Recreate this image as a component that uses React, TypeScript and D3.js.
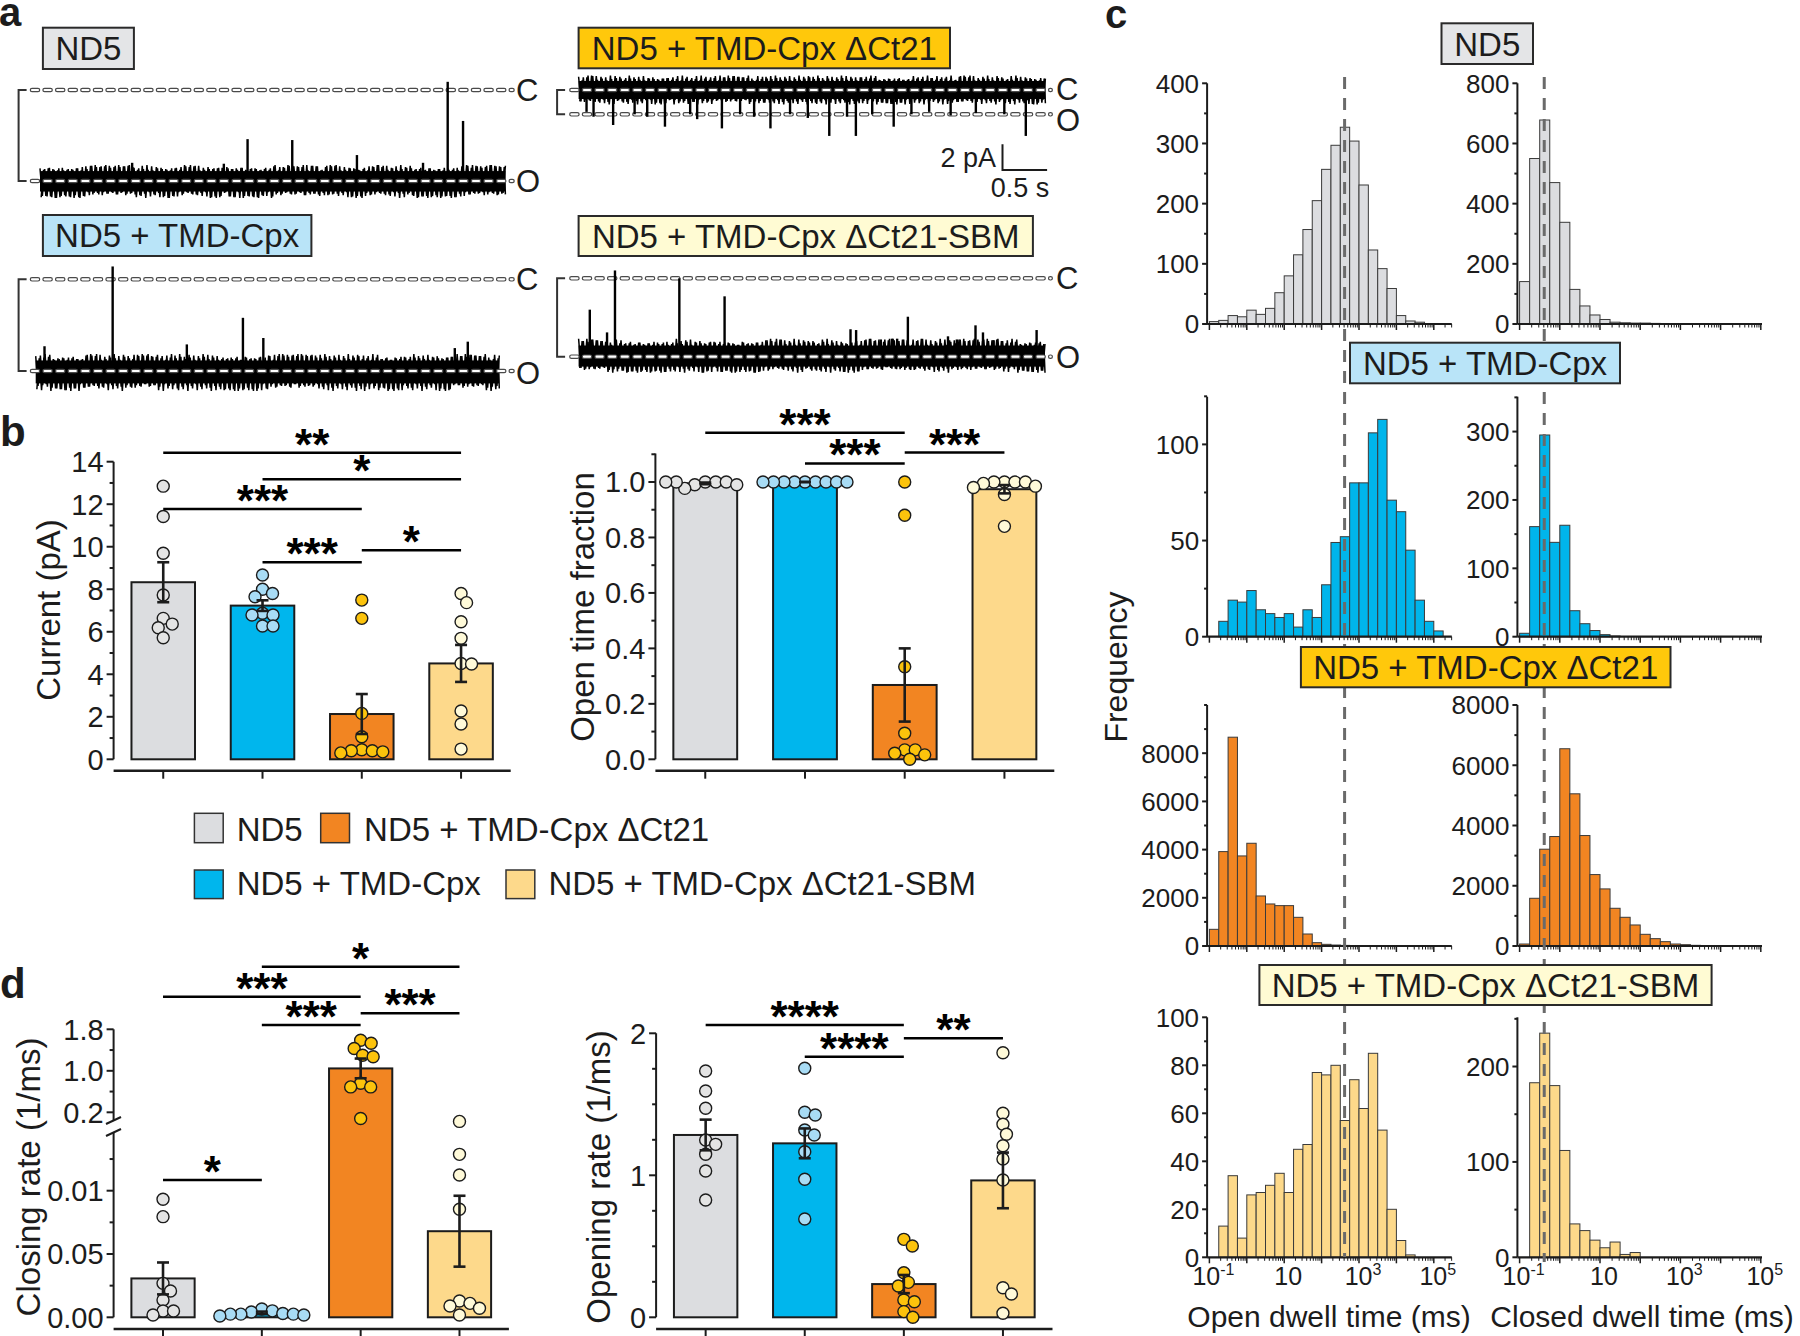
import React from 'react';
import * as d3 from 'd3';

const FONT = "'Liberation Sans', Arial, Helvetica, sans-serif";
const INK = '#1c1c1c';

// ---------------- groups & colours ----------------
const groups = ['ND5', 'ND5 + TMD-Cpx', 'ND5 + TMD-Cpx ΔCt21', 'ND5 + TMD-Cpx ΔCt21-SBM'];
const barColors = ['#dcdde0', '#00b6ed', '#f28522', '#fdd98b'];
const dotColors = ['#e4e4e4', '#a8dcf5', '#fcc30c', '#fffad9'];
const boxColors = ['#e4e5e7', '#b9e4f8', '#ffc80b', '#fffbd3'];
const histColors = ['#dcdde0', '#00b5eb', '#f28522', '#fdd98a'];

// ---------------- panel b : current ----------------
const currentMeans = [8.33, 7.23, 2.13, 4.51];
const currentSem = [0.94, 0.25, 0.94, 0.87];
const currentND5 = [12.85, 11.42, 9.69, 7.73, 6.63, 6.36, 6.19, 5.72];
const currentTMD = [8.67, 8.0, 7.8, 7.65, 6.87, 6.79, 6.79, 6.27, 6.27];
const currentCt21 = [7.49, 6.63, 2.16, 1.06, 0.45, 0.4, 0.4, 0.35, 0.3];
const currentSBM = [7.8, 7.37, 6.47, 5.69, 4.51, 4.48, 2.27, 1.66, 0.48];
const currentTicks = [0, 2, 4, 6, 8, 10, 12, 14];
const currentMinor = [1, 3, 5, 7, 9, 11, 13];
const currentSig: [number, number, number, string][] = [
  [0, 3, 14.42, '**'], [1, 3, 13.17, '*'], [0, 2, 11.77, '***'], [1, 2, 9.27, '***'], [2, 3, 9.83, '*'],
];

// ---------------- panel b : open time fraction ----------------
const fracMeans = [0.995, 1.0, 0.268, 0.974];
const fracSem = [0.003, 0.0, 0.132, 0.015];
const fracND5 = [1.0, 1.0, 0.99, 1.0, 0.977, 1.0, 0.99, 1.0];
const fracTMD = [1, 1, 1, 1, 1, 1, 1, 1, 1];
const fracCt21 = [1.0, 0.88, 0.334, 0.094, 0.034, 0.034, 0.022, 0.016, 0.0];
const fracSBM = [1.0, 1.0, 1.0, 1.0, 0.995, 0.985, 0.98, 0.955, 0.84];
const fracTicks = [0, 0.2, 0.4, 0.6, 0.8, 1.0];
const fracLabels = ['0.0', '0.2', '0.4', '0.6', '0.8', '1.0'];
const fracMinor = [0.1, 0.3, 0.5, 0.7, 0.9, 1.1];
const fracSig: [number, number, number, string][] = [
  [0, 2, 1.178, '***'], [1, 2, 1.067, '***'], [2, 3, 1.106, '***'],
];

// ---------------- panel d : closing rate (broken axis) ----------------
const closeMeans = [0.00307, 0.00035, 1.046, 0.0068];
const closeSem = [0.00126, 0.0001, 0.19, 0.0028];
const closeND5 = [0.00932, 0.00795, 0.00268, 0.00208, 0.00137, 0.0005, 0.0005, 0.00018];
const closeTMD = [0.00066, 0.00051, 0.00042, 0.0003, 0.00025, 0.00025, 0.00025, 0.00018, 0.0001];
const closeCt21 = [1.59, 1.53, 1.43, 1.3, 1.27, 0.76, 0.69, 0.69, 0.08];
const closeSBM = [0.025, 0.01287, 0.01124, 0.00853, 0.00129, 0.0011, 0.00089, 0.00071, 0.00018];
const closeLowTicks = [0, 0.005, 0.01];
const closeLowLabels = ['0.00', '0.05', '0.01'];
const closeLowMinor = [0.0025, 0.0075, 0.0125];
const closeHighTicks = [0.2, 1.0, 1.8];
const closeHighLabels = ['0.2', '1.0', '1.8'];
const closeHighMinor = [0.6, 1.4];
const closeSig: [number, number, number, string][] = [
  [1, 3, 3.007, '*'], [0, 2, 2.428, '***'], [1, 2, 1.883, '***'], [2, 3, 2.108, '***'], [0, 1, 0.01085, '*'],
];

// ---------------- panel d : opening rate ----------------
const openMeans = [1.284, 1.225, 0.234, 0.964];
const openSem = [0.108, 0.105, 0.064, 0.196];
const openND5 = [1.734, 1.594, 1.472, 1.249, 1.218, 1.148, 1.03, 0.826];
const openTMD = [1.754, 1.444, 1.425, 1.319, 1.284, 1.166, 0.972, 0.692];
const openCt21 = [0.549, 0.502, 0.314, 0.246, 0.22, 0.122, 0.11, 0.04, 0.0];
const openSBM = [1.863, 1.437, 1.359, 1.289, 1.208, 1.115, 0.967, 0.208, 0.164, 0.028];
const openTicks = [0, 1, 2];
const openMinor = [0.25, 0.5, 0.75, 1.25, 1.5, 1.75];
const openSig: [number, number, number, string][] = [
  [0, 2, 2.058, '****'], [1, 2, 1.835, '****'], [2, 3, 1.965, '**'],
];

// ---------------- panel c : dwell time histograms (bins of 1/4 decade from 0.1 ms) ----------------
const nd5Open = [4, 6, 14, 12, 23, 16, 26, 52, 80, 115, 157, 205, 257, 297, 327, 304, 231, 123, 92, 59, 14, 5, 3];
const nd5Closed = [141, 550, 678, 470, 338, 115, 60, 30, 15, 6, 4, 3, 3, 2, 1, 1, 1, 1, 1];
const tmdOpen = [0, 8, 19, 18, 24, 14, 12, 10, 12, 5, 14, 10, 27, 49, 52, 80, 80, 106, 113, 71, 65, 45, 19, 8, 3];
const tmdClosed = [5, 161, 295, 138, 163, 38, 19, 9, 3, 1];
const ct21Open = [692, 3917, 8664, 3737, 4263, 2076, 1744, 1675, 1675, 1190, 498, 138, 69, 40, 25, 20, 15, 12, 10, 8, 6, 5, 4, 3];
const ct21Closed = [66, 1584, 3213, 3634, 6548, 5052, 3667, 2371, 1895, 1252, 953, 698, 388, 244, 144, 66, 44, 22, 15, 10, 8, 5, 3, 2];
const sbmOpen = [0, 13, 34, 8, 26, 27, 30, 35, 27, 45, 47, 77, 76, 80, 57, 74, 62, 85, 53, 20, 7, 1];
const sbmClosed = [0, 183, 235, 180, 112, 35, 28, 18, 10, 16, 3, 5];
const openMedianMs = 412;
const closedMedianMs = 0.41;
const dwellExpLabels = [-1, 1, 3, 5];

const histOpenTicks = [[0, 100, 200, 300, 400], [0, 50, 100], [0, 2000, 4000, 6000, 8000], [0, 20, 40, 60, 80, 100]];
const histOpenMinor = [[50, 150, 250, 350], [25, 75, 125], [1000, 3000, 5000, 7000, 9000, 10000], [10, 30, 50, 70, 90]];
const histOpenTop = [400, 124.8, 10000, 100];
const histClosedTicks = [[0, 200, 400, 600, 800], [0, 100, 200, 300], [0, 2000, 4000, 6000, 8000], [0, 100, 200]];
const histClosedMinor = [[100, 300, 500, 700], [50, 150, 250, 350], [1000, 3000, 5000, 7000], [50, 150, 250]];
const histClosedTop = [800, 351, 8000, 251.6];

// ---------------- panel a : traces ----------------
// noise amplitude levels (0-9), alternating up / down excursions, read roughly from the records
const noiseND5 = '4637582946173825496735826471935284617392584639271548362947516372948516273849562147382956174839265147926351847362951483762584739615284736195274619385264719385246385729461837562948176184937255819374628';
const noiseTMD = '6372948516273849562125847396152847361952358264719352846173923857294618375629481747382956174839265147618493725581937462824637582946173825496774619385264719385246584639271548362947519263518473629514837';
const noiseCt21 = '7461938526471938524658463927154836294751618493725581937462829263518473629514837646375829461738254967385729461837562948176372948516273849562135826471935284617392258473961528473619524738295617483926514';
const noiseSBM = '9263518473629514837638572946183756294817473829561748392651475846392715483629475174619385264719385246463758294617382549676184937255819374628225847396152847361952358264719352846173926372948516273849562';
const spikesND5Pos = [0.198, 0.395, 0.446, 0.542, 0.681, 0.823, 0.876, 0.909];
const spikesND5Amp = [0.2, 0.19, 0.46, 0.45, 0.285, 0.2, 1.09, 0.66];
const spikesTMDPos = [0.019, 0.166, 0.326, 0.447, 0.491, 0.904, 0.932];
const spikesTMDAmp = [0.27, 1.14, 0.29, 0.58, 0.36, 0.25, 0.32];
const spikesCt21Pos = [0.017, 0.032, 0.074, 0.12, 0.147, 0.185, 0.239, 0.254, 0.307, 0.346, 0.376, 0.411, 0.453, 0.491, 0.537, 0.575, 0.594, 0.629, 0.675, 0.713, 0.751, 0.797, 0.851, 0.912, 0.958];
const spikesCt21Amp = [0.9, 1.1, 1.44, 1.0, 1.1, 1.51, 1.0, 1.2, 1.58, 1.0, 1.1, 1.58, 1.0, 1.15, 1.89, 1.1, 1.89, 1.0, 1.51, 1.0, 0.9, 1.05, 0.95, 1.0, 1.89];
const spikesSBMPos = [0.024, 0.061, 0.078, 0.216, 0.313, 0.583, 0.595, 0.648, 0.672, 0.683, 0.706, 0.792, 0.811, 0.851, 0.867, 0.89, 0.982];
const spikesSBMAmp = [0.6, 0.31, 1.1, 1.0, 0.77, 0.35, 0.34, 0.22, 0.23, 0.23, 0.51, 0.26, 0.22, 0.4, 0.31, 0.21, 0.34];

// ================= helpers =================
function swarm(vals: number[], y: (v: number) => number, minD = 10.5) {
  const placed: { x: number; y: number }[] = [];
  return vals.map((v) => {
    const py = y(v);
    let best = 0;
    for (let k = 0; k < 400; k++) {
      const off = k === 0 ? 0 : (k % 2 ? 1 : -1) * Math.ceil(k / 2) * 0.5;
      if (placed.every((p) => (p.x - off) ** 2 + (p.y - py) ** 2 >= minD * minD)) { best = off; break; }
    }
    placed.push({ x: best, y: py });
    return { x: best, y: py };
  });
}

function YAxis({ scale, x, ticks, labels, minor, from, to, fontSize = 29, major = 7, minorLen = 4, gap = 10 }: any) {
  return (
    <g>
      <line x1={x} x2={x} y1={scale(from)} y2={scale(to)} stroke={INK} strokeWidth={2} />
      {ticks.map((t: number, i: number) => (
        <g key={'t' + i}>
          <line x1={x - major} x2={x} y1={scale(t)} y2={scale(t)} stroke={INK} strokeWidth={2} />
          <text x={x - gap} y={scale(t)} dy="0.36em" textAnchor="end" fontSize={fontSize} fill={INK}>{labels[i]}</text>
        </g>
      ))}
      {minor.map((t: number, i: number) => (
        <line key={'m' + i} x1={x - minorLen} x2={x} y1={scale(t)} y2={scale(t)} stroke={INK} strokeWidth={2} />
      ))}
    </g>
  );
}

function BarPanel({ xr, yScale, axisLineY, means, sems, pts, sig }: any) {
  const xb = d3.scaleBand<string>().domain(groups).range(xr).paddingInner(0.36).paddingOuter(0.18);
  const bw = xb.bandwidth();
  const cx = (i: number) => (xb(groups[i]) as number) + bw / 2;
  const y0 = yScale(0);
  return (
    <g>
      {groups.map((g, i) => (
        <rect key={g} x={xb(g)} y={yScale(means[i])} width={bw} height={y0 - yScale(means[i])}
          fill={barColors[i]} stroke={INK} strokeWidth={2} />
      ))}
      {pts.map((vals: number[], i: number) =>
        swarm(vals, yScale).map((p, j) => (
          <circle key={i + '-' + j} cx={cx(i) + p.x} cy={p.y} r={6} fill={dotColors[i]} stroke={INK} strokeWidth={1.4} />
        ))
      )}
      {means.map((m: number, i: number) => {
        const yt = yScale(m + sems[i]);
        const yb = yScale(m - sems[i]);
        return (
          <g key={'e' + i} stroke={INK} strokeWidth={2.6}>
            <line x1={cx(i)} x2={cx(i)} y1={yt} y2={yb} />
            <line x1={cx(i) - 6} x2={cx(i) + 6} y1={yt} y2={yt} />
            <line x1={cx(i) - 6} x2={cx(i) + 6} y1={yb} y2={yb} />
          </g>
        );
      })}
      <line x1={xr[0]} x2={xr[1]} y1={axisLineY} y2={axisLineY} stroke={INK} strokeWidth={2.5} />
      {groups.map((g, i) => (
        <line key={'xt' + i} x1={cx(i)} x2={cx(i)} y1={axisLineY} y2={axisLineY + 8} stroke={INK} strokeWidth={2} />
      ))}
      {sig.map(([a, b, level, label]: [number, number, number, string], i: number) => {
        const y = yScale(level);
        return (
          <g key={'s' + i}>
            <line x1={cx(a)} x2={cx(b)} y1={y} y2={y} stroke="#000" strokeWidth={2.5} />
            <text x={(cx(a) + cx(b)) / 2} y={y + 7} textAnchor="middle" fontSize={44} fontWeight="bold" fill="#000">{label}</text>
          </g>
        );
      })}
    </g>
  );
}

function Box({ x, y, w, h, fill, text }: any) {
  return (
    <g>
      <rect x={x} y={y} width={w} height={h} fill={fill} stroke="#2a2a2a" strokeWidth={2} />
      <text x={x + w / 2} y={y + h / 2} dy="0.36em" textAnchor="middle" fontSize={33} fill={INK}>{text}</text>
    </g>
  );
}

function RefLine({ x0, x1, y }: any) {
  return (
    <g>
      <line x1={x0} x2={x1} y1={y} y2={y} stroke="#4a4a4a" strokeWidth={4.6} strokeDasharray="6 6.6" strokeLinecap="round" />
      <line x1={x0} x2={x1} y1={y} y2={y} stroke="#fff" strokeWidth={2.2} strokeDasharray="6 6.6" strokeLinecap="round" />
    </g>
  );
}

function Trace({ x0, x1, yC, yO, onC, noise, up, down, spikePos, spikeAmp, bx, rx0, rx1, lx, cLabelY, oLabelY }: any) {
  const yBase = onC ? yC : yO;
  const yRef = onC ? yO : yC;
  const chars = Array.from(noise as string);
  const n = chars.length;
  const xs = d3.scaleLinear().domain([0, n - 1]).range([x0, x1]);
  const half = (x1 - x0) / (n - 1) / 2;
  const core = 0.62;
  const mk = (seq: string[], shift: number, flip: boolean) =>
    d3.line()(seq.map((ch, i) => {
      const m = core + 0.042 * +ch;
      const isUp = (i % 2 === 0) !== flip;
      return [Math.min(x1, xs(i) + shift), isUp ? yBase - up * m : yBase + down * m] as [number, number];
    })) as string;
  const path1 = mk(chars, 0, false);
  const path2 = mk(chars.slice().reverse(), half, true);
  const spx = d3.scaleLinear().domain([0, 1]).range([x0, x1]);
  return (
    <g>
      <path d={`M${bx + 8},${yC}H${bx}V${yO}H${bx + 8}`} fill="none" stroke="#333" strokeWidth={2} />
      {onC ? <RefLine x0={rx0} x1={rx1} y={yO} /> : <RefLine x0={rx0} x1={rx1} y={yC} />}
      <rect x={x0} y={yBase - up * core} width={x1 - x0} height={(up + down) * core} fill="#000" />
      <path d={path1} fill="none" stroke="#000" strokeWidth={1.5} />
      <path d={path2} fill="none" stroke="#000" strokeWidth={1.5} />
      {spikePos.map((p: number, i: number) => (
        <line key={i} x1={spx(p)} x2={spx(p)} y1={yBase} y2={yBase + spikeAmp[i] * (yRef - yBase)} stroke="#000" strokeWidth={2.4} />
      ))}
      {onC ? <RefLine x0={rx0} x1={rx1} y={yC} /> : <RefLine x0={rx0} x1={rx1} y={yO} />}
      <text x={lx} y={cLabelY} dy="0.36em" fontSize={31} fill={INK}>C</text>
      <text x={lx} y={oLabelY} dy="0.36em" fontSize={31} fill={INK}>O</text>
    </g>
  );
}

const openX = d3.scaleLog().domain([0.1, 1e5]).range([1209.4, 1433.8]);
const closedX = d3.scaleLog().domain([0.1, 1e5]).range([1519.6, 1760.8]);
const binEdge = (i: number) => Math.pow(10, -1 + 0.25 * i);

function Hist({ xs, axisX0, axisX1, zero, top, maxV, values, color, ticks, minor, showLabels }: any) {
  const ys = d3.scaleLinear().domain([0, maxV]).range([zero, top]);
  const [d0, d1] = [Math.log10(xs.invert(axisX0)), Math.log10(xs.invert(axisX1))];
  const majors: number[] = [];
  const minors: number[] = [];
  for (let k = -1; k <= 5; k++) {
    majors.push(Math.pow(10, k));
    for (let m = 2; m <= 9; m++) {
      const v = m * Math.pow(10, k);
      if (Math.log10(v) <= d1 && Math.log10(v) >= d0) minors.push(v);
    }
  }
  return (
    <g>
      {values.map((v: number, i: number) => v > 0 ? (
        <rect key={i} x={xs(binEdge(i))} y={ys(v)} width={xs(binEdge(i + 1)) - xs(binEdge(i))} height={zero - ys(v)}
          fill={color} stroke="#3a3a3a" strokeWidth={1} />
      ) : null)}
      <line x1={axisX0} x2={axisX1} y1={zero} y2={zero} stroke={INK} strokeWidth={2.2} />
      {majors.map((v, i) => <line key={'M' + i} x1={xs(v)} x2={xs(v)} y1={zero} y2={zero + 6} stroke={INK} strokeWidth={1.5} />)}
      {minors.map((v, i) => <line key={'m' + i} x1={xs(v)} x2={xs(v)} y1={zero} y2={zero + 3.5} stroke={INK} strokeWidth={1} />)}
      <YAxis scale={ys} x={axisX0} ticks={ticks} labels={ticks.map((t: number) => String(t))} minor={minor}
        from={0} to={maxV} fontSize={26} major={5} minorLen={3} gap={8} />
      {showLabels && dwellExpLabels.map((e) => (
        <text key={'xl' + e} x={xs(Math.pow(10, e)) + 4} y={zero + 28} textAnchor="middle" fontSize={25} fill={INK}>
          10{e !== 1 ? <tspan dy={-10} fontSize={16}>{e}</tspan> : null}
        </text>
      ))}
    </g>
  );
}

export default function App() {
  const yCurrent = d3.scaleLinear().domain([0, 14]).range([759.3, 461.7]);
  const yFrac = d3.scaleLinear().domain([0, 1]).range([759.3, 482]);
  const yClose = d3.scaleLinear().domain([0, 0.01466, 0.019, 1.8]).range([1317.3, 1131.7, 1121.7, 1029.3]);
  const yOpen = d3.scaleLinear().domain([0, 2]).range([1317.3, 1033.3]);

  const rows = [
    { zero: 324, top: 83.3, open: nd5Open, closed: nd5Closed },
    { zero: 636.7, top: 396.7, open: tmdOpen, closed: tmdClosed },
    { zero: 946, top: 705, open: ct21Open, closed: ct21Closed },
    { zero: 1257.3, top: 1017.3, open: sbmOpen, closed: sbmClosed },
  ];

  return (
    <svg width={1800} height={1336} viewBox="0 0 1800 1336"
      style={{ position: 'absolute', left: 0, top: 0, background: '#fff', fontFamily: FONT }}>
      <rect x={0} y={0} width={1800} height={1336} fill="#fff" />

      {/* panel labels */}
      <text x={-1} y={26} fontSize={40} fontWeight="bold" fill={INK}>a</text>
      <text x={0} y={446} fontSize={42} fontWeight="bold" fill={INK}>b</text>
      <text x={1105} y={28} fontSize={40} fontWeight="bold" fill={INK}>c</text>
      <text x={0} y={998} fontSize={42} fontWeight="bold" fill={INK}>d</text>

      {/* ============ panel a ============ */}
      <Box x={42.9} y={27.7} w={91} h={41.3} fill={boxColors[0]} text={groups[0]} />
      <Box x={42.9} y={215} w={268.5} h={41} fill={boxColors[1]} text={groups[1]} />
      <Box x={578.6} y={27.7} w={371.4} h={40.6} fill={boxColors[2]} text={groups[2]} />
      <Box x={578.6} y={216} w={454.3} h={40} fill={boxColors[3]} text={groups[3]} />

      <Trace x0={40} x1={505.4} yC={90} yO={181} onC={false} noise={noiseND5} up={16} down={17}
        spikePos={spikesND5Pos} spikeAmp={spikesND5Amp} bx={18.6} rx0={32} rx1={512.5} lx={516} cLabelY={90} oLabelY={181} />
      <Trace x0={35.7} x1={499.3} yC={279.3} yO={371} onC={false} noise={noiseTMD} up={17} down={20}
        spikePos={spikesTMDPos} spikeAmp={spikesTMDAmp} bx={18.6} rx0={32} rx1={512.5} lx={516} cLabelY={279.3} oLabelY={373} />
      <Trace x0={578.6} x1={1045.4} yC={90} yO={114.3} onC={true} noise={noiseCt21} up={14.5} down={14.5}
        spikePos={spikesCt21Pos} spikeAmp={spikesCt21Amp} bx={557.1} rx0={571.4} rx1={1050.7} lx={1056} cLabelY={89} oLabelY={120} />
      <Trace x0={578.6} x1={1045} yC={278.3} yO={356.7} onC={false} noise={noiseSBM} up={18} down={16}
        spikePos={spikesSBMPos} spikeAmp={spikesSBMAmp} bx={557.1} rx0={571.4} rx1={1050.7} lx={1056} cLabelY={278.3} oLabelY={356.7} />

      {/* scale bar */}
      <path d="M1002.5,144.3V170H1047.1" fill="none" stroke={INK} strokeWidth={2} />
      <text x={996} y={166.7} textAnchor="end" fontSize={27} fill={INK}>2 pA</text>
      <text x={1020} y={196.7} textAnchor="middle" fontSize={27} fill={INK}>0.5 s</text>

      {/* ============ panel b ============ */}
      <YAxis scale={yCurrent} x={113.6} ticks={currentTicks} labels={currentTicks.map(String)} minor={currentMinor} from={0} to={14} />
      <BarPanel xr={[113.6, 510.7]} yScale={yCurrent} axisLineY={770.7} means={currentMeans} sems={currentSem}
        pts={[currentND5, currentTMD, currentCt21, currentSBM]} sig={currentSig} />
      <text transform="translate(60,610) rotate(-90)" textAnchor="middle" fontSize={33} fill={INK}>Current (pA)</text>

      <YAxis scale={yFrac} x={655.4} ticks={fracTicks} labels={fracLabels} minor={fracMinor} from={0} to={1.103} />
      <BarPanel xr={[655.4, 1054.3]} yScale={yFrac} axisLineY={770.7} means={fracMeans} sems={fracSem}
        pts={[fracND5, fracTMD, fracCt21, fracSBM]} sig={fracSig} />
      <text transform="translate(594,607) rotate(-90)" textAnchor="middle" fontSize={33} fill={INK}>Open time fraction</text>

      {/* legend */}
      <rect x={194.4} y={813.3} width={28.8} height={29.4} fill={barColors[0]} stroke="#333" strokeWidth={1.5} />
      <text x={236.7} y={841} fontSize={33} fill={INK}>{groups[0]}</text>
      <rect x={320.7} y={813.3} width={28.8} height={29.4} fill={barColors[2]} stroke="#333" strokeWidth={1.5} />
      <text x={364.1} y={841} fontSize={33} fill={INK}>{groups[2]}</text>
      <rect x={194.4} y={870} width={28.8} height={28.6} fill={barColors[1]} stroke="#333" strokeWidth={1.5} />
      <text x={236.7} y={895} fontSize={33} fill={INK}>{groups[1]}</text>
      <rect x={506} y={870} width={28.8} height={28.6} fill={barColors[3]} stroke="#333" strokeWidth={1.5} />
      <text x={548.4} y={895} fontSize={33} fill={INK}>{groups[3]}</text>

      {/* ============ panel d ============ */}
      <g>
        <line x1={113.6} x2={113.6} y1={yClose(1.8)} y2={1120} stroke={INK} strokeWidth={2} />
        <line x1={113.6} x2={113.6} y1={1133} y2={yClose(0)} stroke={INK} strokeWidth={2} />
        <line x1={106} x2={121} y1={1124} y2={1117} stroke={INK} strokeWidth={2} />
        <line x1={106} x2={121} y1={1136} y2={1129} stroke={INK} strokeWidth={2} />
        {closeLowTicks.map((t, i) => (
          <g key={'cl' + i}>
            <line x1={106.6} x2={113.6} y1={yClose(t)} y2={yClose(t)} stroke={INK} strokeWidth={2} />
            <text x={103.6} y={yClose(t)} dy="0.36em" textAnchor="end" fontSize={29} fill={INK}>{closeLowLabels[i]}</text>
          </g>
        ))}
        {closeHighTicks.map((t, i) => (
          <g key={'ch' + i}>
            <line x1={106.6} x2={113.6} y1={yClose(t)} y2={yClose(t)} stroke={INK} strokeWidth={2} />
            <text x={103.6} y={yClose(t)} dy="0.36em" textAnchor="end" fontSize={29} fill={INK}>{closeHighLabels[i]}</text>
          </g>
        ))}
        {[...closeLowMinor, ...closeHighMinor].map((t, i) => (
          <line key={'cm' + i} x1={109.6} x2={113.6} y1={yClose(t)} y2={yClose(t)} stroke={INK} strokeWidth={2} />
        ))}
      </g>
      <BarPanel xr={[113.6, 508.9]} yScale={yClose} axisLineY={1329} means={closeMeans} sems={closeSem}
        pts={[closeND5, closeTMD, closeCt21, closeSBM]} sig={closeSig} />
      <text transform="translate(40,1177) rotate(-90)" textAnchor="middle" fontSize={33} fill={INK}>Closing rate (1/ms)</text>

      <YAxis scale={yOpen} x={656.1} ticks={openTicks} labels={openTicks.map(String)} minor={openMinor} from={0} to={2} />
      <BarPanel xr={[656.1, 1052.5]} yScale={yOpen} axisLineY={1329} means={openMeans} sems={openSem}
        pts={[openND5, openTMD, openCt21, openSBM]} sig={openSig} />
      <text transform="translate(610,1177) rotate(-90)" textAnchor="middle" fontSize={33} fill={INK}>Opening rate (1/ms)</text>

      {/* ============ panel c ============ */}
      {rows.map((r, i) => (
        <g key={'row' + i}>
          <Hist xs={openX} axisX0={1207.1} axisX1={1451.8} zero={r.zero} top={r.top} maxV={histOpenTop[i]}
            values={r.open} color={histColors[i]} ticks={histOpenTicks[i]} minor={histOpenMinor[i]} showLabels={i === 3} />
          <Hist xs={closedX} axisX0={1517.4} axisX1={1762} zero={r.zero} top={r.top} maxV={histClosedTop[i]}
            values={r.closed} color={histColors[i]} ticks={histClosedTicks[i]} minor={histClosedMinor[i]} showLabels={i === 3} />
        </g>
      ))}
      <line x1={openX(openMedianMs)} x2={openX(openMedianMs)} y1={77} y2={1257} stroke="#6a6a6a" strokeWidth={3} strokeDasharray="12 9" />
      <line x1={closedX(closedMedianMs)} x2={closedX(closedMedianMs)} y1={77} y2={1262} stroke="#6a6a6a" strokeWidth={3} strokeDasharray="12 9" />
      <Box x={1441.5} y={23.3} w={91.5} h={40.7} fill={boxColors[0]} text={groups[0]} />
      <Box x={1350} y={342.7} w={270} h={40.6} fill={boxColors[1]} text={groups[1]} />
      <Box x={1300.9} y={647} w={369.6} h={40.3} fill={boxColors[2]} text={groups[2]} />
      <Box x={1259.4} y={965} w={452.2} h={40} fill={boxColors[3]} text={groups[3]} />
      <text transform="translate(1127,667) rotate(-90)" textAnchor="middle" fontSize={32} fill={INK}>Frequency</text>
      <text x={1329} y={1326.7} textAnchor="middle" fontSize={30} fill={INK}>Open dwell time (ms)</text>
      <text x={1642} y={1326.7} textAnchor="middle" fontSize={30} fill={INK}>Closed dwell time (ms)</text>
    </svg>
  );
}
